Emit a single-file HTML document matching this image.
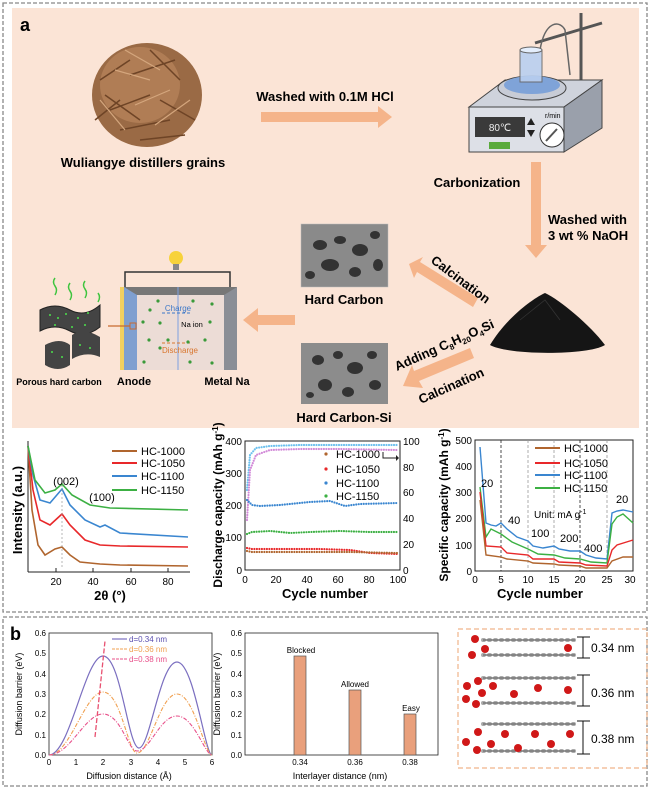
<!DOCTYPE html>
<html><head><meta charset="utf-8"><style>
html,body{margin:0;padding:0;background:#fff;}
svg{display:block;font-family:"Liberation Sans",Arial,sans-serif;}
.b{font-weight:bold;}
</style></head><body>
<svg width="650" height="789" viewBox="0 0 650 789" xmlns="http://www.w3.org/2000/svg">
<!-- outer dashed borders -->
<rect x="3" y="3" width="644" height="609" fill="none" stroke="#888" stroke-width="1.3" stroke-dasharray="4,2"/>
<rect x="3" y="617" width="644" height="169" fill="none" stroke="#888" stroke-width="1.3" stroke-dasharray="4,2"/>
<!-- peach box -->
<rect x="12" y="8" width="627" height="420" fill="#fbe4d6"/>
<text x="20" y="31" font-size="18" class="b">a</text>

<!-- grains -->
<g>
<ellipse cx="147" cy="95" rx="55" ry="52" fill="#9a6a45"/>
<ellipse cx="140" cy="85" rx="40" ry="38" fill="#b07d55"/>
<g stroke="#6e4426" stroke-width="1.5">
<line x1="100" y1="80" x2="130" y2="60"/><line x1="110" y1="110" x2="150" y2="95"/><line x1="120" y1="130" x2="170" y2="120"/>
<line x1="150" y1="50" x2="180" y2="80"/><line x1="160" y1="100" x2="195" y2="120"/><line x1="95" y1="120" x2="120" y2="100"/>
<line x1="130" y1="75" x2="175" y2="60"/><line x1="140" y1="140" x2="185" y2="135"/><line x1="105" y1="95" x2="140" y2="120"/>
</g>
<g stroke="#d4a67d" stroke-width="1.2">
<line x1="115" y1="70" x2="150" y2="80"/><line x1="135" y1="105" x2="170" y2="90"/><line x1="100" y1="100" x2="125" y2="130"/>
<line x1="155" y1="125" x2="190" y2="100"/><line x1="125" y1="50" x2="160" y2="70"/>
</g>
</g>
<text x="143" y="167" font-size="13" class="b" text-anchor="middle">Wuliangye distillers grains</text>

<!-- arrow HCl -->
<text x="325" y="101" font-size="13" class="b" text-anchor="middle">Washed with 0.1M HCl</text>
<polygon points="261,112 378,112 378,106 392,117 378,128 378,122 261,122" fill="#f5b48a"/>

<!-- stirrer -->
<g>
<line x1="535" y1="43" x2="602" y2="23" stroke="#555" stroke-width="3"/>
<line x1="581" y1="13" x2="581" y2="85" stroke="#555" stroke-width="3"/>
<path d="M540,50 C545,20 560,20 565,30 L570,75" fill="none" stroke="#666" stroke-width="1.5"/>
<polygon points="469,107 505,80 602,80 564,107" fill="#cfd3dc" stroke="#444"/>
<polygon points="564,107 602,80 602,128 564,152" fill="#9aa0ab" stroke="#444"/>
<rect x="469" y="107" width="95" height="45" fill="#dde0e7" stroke="#444"/>
<ellipse cx="532" cy="88" rx="34" ry="12" fill="#c8ccd6" stroke="#444"/>
<ellipse cx="532" cy="85" rx="28" ry="9" fill="#7fa3d8"/>
<rect x="520" y="50" width="22" height="32" fill="#b9cff0" stroke="#666" opacity="0.9"/>
<ellipse cx="531" cy="50" rx="11" ry="3" fill="#e4eefc" stroke="#666"/>
<rect x="475" y="117" width="50" height="20" fill="#3a3a3a"/>
<text x="500" y="131" font-size="10" fill="#eee" text-anchor="middle">80℃</text>
<polygon points="531,118 535,125 527,125" fill="#222"/><polygon points="531,137 535,130 527,130" fill="#222"/>
<circle cx="552" cy="135" r="12" fill="#fff" stroke="#333"/>
<line x1="546" y1="141" x2="557" y2="129" stroke="#555" stroke-width="2"/>
<text x="545" y="118" font-size="7">r/min</text>
<rect x="489" y="142" width="21" height="7" fill="#5aaa3c"/>
</g>
<text x="477" y="187" font-size="13" class="b" text-anchor="middle">Carbonization</text>

<!-- down arrow -->
<polygon points="531,162 541,162 541,245 547,245 536,258 525,245 531,245" fill="#f5b48a"/>
<text x="548" y="224" font-size="13" class="b">Washed with</text>
<text x="548" y="240" font-size="13" class="b">3 wt % NaOH</text>

<!-- powder pile -->
<path d="M490,345 C505,320 530,300 545,293 C560,300 590,325 605,345 C590,355 510,356 490,345 Z" fill="#151515"/>
<path d="M520,320 L545,300 L560,320" fill="none" stroke="#333" stroke-width="0.8"/>

<!-- calcination upper arrow -->
<polygon points="478,298 420,262 423,257 409,264 414,278 417,272 473,307" fill="#f5b48a"/>
<text x="0" y="0" font-size="13" class="b" transform="translate(430,262) rotate(37)">Calcination</text>

<!-- lower arrow -->
<polygon points="470,348 414,371 412,365 403,386 423,388 419,381 474,358" fill="#f5b48a"/>
<text x="0" y="0" font-size="13" class="b" transform="translate(397,371) rotate(-24)">Adding C<tspan font-size="8" dy="3">8</tspan><tspan dy="-3">H</tspan><tspan font-size="8" dy="3">20</tspan><tspan dy="-3">O</tspan><tspan font-size="8" dy="3">4</tspan><tspan dy="-3">Si</tspan></text>
<text x="0" y="0" font-size="13" class="b" transform="translate(421,404) rotate(-24)">Calcination</text>

<!-- SEM images -->
<g>
<rect x="301" y="224" width="87" height="63" fill="#8a8a8a"/>
<g fill="#333"><ellipse cx="320" cy="245" rx="7" ry="5"/><ellipse cx="340" cy="240" rx="6" ry="4"/><ellipse cx="360" cy="250" rx="8" ry="6"/><ellipse cx="330" cy="265" rx="9" ry="6"/><ellipse cx="355" cy="272" rx="6" ry="5"/><ellipse cx="375" cy="235" rx="5" ry="4"/><ellipse cx="310" cy="275" rx="5" ry="4"/><ellipse cx="378" cy="265" rx="5" ry="6"/></g>
<rect x="301" y="224" width="87" height="63" fill="none" stroke="#bbb" stroke-width="0.5"/>
</g>
<text x="344" y="304" font-size="13" class="b" text-anchor="middle">Hard Carbon</text>
<g>
<rect x="301" y="343" width="87" height="61" fill="#8c8c8c"/>
<g fill="#333"><ellipse cx="318" cy="360" rx="6" ry="5"/><ellipse cx="338" cy="355" rx="5" ry="4"/><ellipse cx="355" cy="368" rx="8" ry="6"/><ellipse cx="325" cy="385" rx="7" ry="6"/><ellipse cx="348" cy="392" rx="6" ry="5"/><ellipse cx="372" cy="355" rx="5" ry="4"/><ellipse cx="375" cy="385" rx="6" ry="5"/><ellipse cx="310" cy="395" rx="4" ry="3"/></g>
</g>
<text x="344" y="422" font-size="13" class="b" text-anchor="middle">Hard Carbon-Si</text>

<!-- left arrow -->
<polygon points="295,315 258,315 258,308 243,320 258,332 258,325 295,325" fill="#f5b48a"/>

<!-- battery -->
<g>
<polyline points="125,287 125,272 230,272 230,287" fill="none" stroke="#333" stroke-width="1.5"/>
<circle cx="176" cy="258" r="7" fill="#f7d23a"/>
<rect x="173" y="264" width="6" height="6" fill="#888"/>
<polygon points="120,287 237,287 232,295 125,295" fill="#777"/>
<rect x="125" y="295" width="107" height="75" fill="#ecdcd6"/>
<rect x="120" y="287" width="4" height="83" fill="#f2d060"/>
<polygon points="124,287 137,295 137,370 124,370" fill="#7f9fd0"/>
<polygon points="237,287 224,295 224,370 237,370" fill="#8a8e96"/>
<line x1="178" y1="287" x2="178" y2="370" stroke="#7ea0e0" stroke-width="1"/>
<line x1="162" y1="313" x2="192" y2="313" stroke="#3d78c8" stroke-dasharray="3,2"/>
<text x="178" y="311" font-size="8" fill="#3d78c8" text-anchor="middle">Charge</text>
<text x="192" y="327" font-size="7.5" text-anchor="middle">Na ion</text>
<line x1="162" y1="343" x2="192" y2="343" stroke="#d9762e" stroke-dasharray="3,2"/>
<text x="180" y="353" font-size="8" fill="#d9762e" text-anchor="middle">Discharge</text>
<g fill="#3a9a3a"><circle cx="158" cy="301" r="1.6"/><circle cx="193" cy="301" r="1.6"/><circle cx="212" cy="304" r="1.6"/><circle cx="150" cy="310" r="1.6"/><circle cx="143" cy="322" r="1.6"/><circle cx="160" cy="323" r="1.6"/><circle cx="210" cy="322" r="1.6"/><circle cx="149" cy="340" r="1.6"/><circle cx="168" cy="340" r="1.6"/><circle cx="205" cy="340" r="1.6"/><circle cx="188" cy="342" r="1.6"/><circle cx="160" cy="348" r="1.6"/><circle cx="144" cy="362" r="1.6"/><circle cx="190" cy="362" r="1.6"/><circle cx="212" cy="363" r="1.6"/></g>
<rect x="130" y="323" width="6" height="6" fill="none" stroke="#c86a30"/>
<line x1="108" y1="326" x2="130" y2="326" stroke="#c86a30" stroke-width="1.2"/>
</g>
<!-- porous hard carbon -->
<g>
<g stroke="#3fc43f" stroke-width="1.5" fill="none"><path d="M55,295 q3,-5 0,-9 q-3,-4 0,-8"/><path d="M70,300 q3,-5 0,-9 q-3,-4 0,-8"/><path d="M85,298 q3,-5 0,-9 q-3,-4 0,-8"/><path d="M98,302 q3,-5 0,-9"/></g>
<path d="M40,310 q15,-8 30,0 q15,8 30,-5 l0,22 q-15,12 -30,4 q-15,-8 -30,0 z" fill="#444" stroke="#222"/>
<path d="M45,345 q15,-8 25,0 l0,20 q-12,8 -25,0 z" fill="#444"/>
<path d="M72,335 q12,-8 28,2 l0,20 q-14,-6 -28,2 z" fill="#444"/>
<g fill="#4ce04c"><circle cx="50" cy="315" r="1"/><circle cx="58" cy="318" r="1"/><circle cx="66" cy="314" r="1"/><circle cx="78" cy="318" r="1"/><circle cx="88" cy="313" r="1"/><circle cx="55" cy="325" r="1"/><circle cx="72" cy="327" r="1"/><circle cx="85" cy="325" r="1"/><circle cx="52" cy="352" r="1"/><circle cx="62" cy="357" r="1"/><circle cx="80" cy="345" r="1"/><circle cx="90" cy="348" r="1"/></g>
</g>
<text x="59" y="385" font-size="9" class="b" text-anchor="middle">Porous hard carbon</text>
<text x="134" y="385" font-size="11" class="b" text-anchor="middle">Anode</text>
<text x="227" y="385" font-size="11" class="b" text-anchor="middle">Metal Na</text>

<!-- ===== Chart 1 XRD ===== -->
<g>
<line x1="28" y1="441" x2="28" y2="572" stroke="#222"/>
<line x1="28" y1="572" x2="190" y2="572" stroke="#222"/>
<g stroke="#222"><line x1="56" y1="572" x2="56" y2="568"/><line x1="93" y1="572" x2="93" y2="568"/><line x1="131" y1="572" x2="131" y2="568"/><line x1="168" y1="572" x2="168" y2="568"/></g>
<g font-size="10" text-anchor="middle"><text x="56" y="585">20</text><text x="93" y="585">40</text><text x="131" y="585">60</text><text x="168" y="585">80</text></g>
<text x="110" y="600" font-size="13" class="b" text-anchor="middle">2θ (°)</text>
<text transform="translate(22,510) rotate(-90)" font-size="13" class="b" text-anchor="middle">Intensity (a.u.)</text>
<g fill="none" stroke-width="1.6">
<polyline stroke="#b0652e" points="28,446 32,510 38,545 45,555 55,549 62,547 70,555 80,562 100,564 120,565 188,566"/>
<polyline stroke="#e8282a" points="28,446 33,490 40,520 50,525 62,514 70,525 85,540 100,545 120,546 188,547"/>
<polyline stroke="#3a86d0" points="28,446 33,475 40,500 50,503 62,489 70,505 85,520 100,527 105,525 120,533 188,537"/>
<polyline stroke="#3cb043" points="28,446 35,480 45,493 55,490 62,484 72,495 90,505 110,508 188,510"/>
</g>
<line x1="62" y1="485" x2="62" y2="568" stroke="#999" stroke-dasharray="2,2" stroke-width="0.7"/>
<text x="66" y="485" font-size="11" text-anchor="middle">(002)</text>
<text x="102" y="501" font-size="11" text-anchor="middle">(100)</text>
<g font-size="11"><line x1="112" y1="451" x2="137" y2="451" stroke="#b0652e" stroke-width="2"/><text x="141" y="455">HC-1000</text>
<line x1="112" y1="463" x2="137" y2="463" stroke="#e8282a" stroke-width="2"/><text x="141" y="467">HC-1050</text>
<line x1="112" y1="476" x2="137" y2="476" stroke="#3a86d0" stroke-width="2"/><text x="141" y="480">HC-1100</text>
<line x1="112" y1="490" x2="137" y2="490" stroke="#3cb043" stroke-width="2"/><text x="141" y="494">HC-1150</text></g>
</g>

<!-- ===== Chart 2 cycling ===== -->
<g>
<rect x="245" y="441" width="155" height="129" fill="none" stroke="#222"/>
<g font-size="10" text-anchor="end"><text x="242" y="574">0</text><text x="242" y="541">100</text><text x="242" y="509">200</text><text x="242" y="477">300</text><text x="242" y="445">400</text></g>
<g font-size="10"><text x="403" y="574">0</text><text x="403" y="548">20</text><text x="403" y="522">40</text><text x="403" y="496">60</text><text x="403" y="471">80</text><text x="403" y="445">100</text></g>
<g font-size="10" text-anchor="middle"><text x="245" y="583">0</text><text x="276" y="583">20</text><text x="307" y="583">40</text><text x="338" y="583">60</text><text x="369" y="583">80</text><text x="398" y="583">100</text></g>
<text x="325" y="598" font-size="13" class="b" text-anchor="middle">Cycle number</text>
<text transform="translate(222,505) rotate(-90)" font-size="12" class="b" text-anchor="middle">Discharge capacity (mAh g<tspan font-size="8" dy="-4">-1</tspan><tspan dy="4">)</tspan></text>
<g fill="none" stroke-linecap="round" stroke-width="2.2" stroke-dasharray="0 2.5">
<polyline stroke="#6cc0ee" points="247,490 250,455 256,448 270,446 300,445 340,445 398,445"/>
<polyline stroke="#d28ad8" points="247,520 250,470 256,455 270,450 300,449 340,449 398,450"/>
<polyline stroke="#3a86d0" points="247,500 252,505 260,506 280,505 310,502 330,501 345,506 360,504 398,503"/>
<polyline stroke="#3cb043" points="247,534 252,532 270,531 290,533 310,532 340,531 370,532 398,532"/>
<polyline stroke="#e8282a" points="247,548 252,549 280,549 320,549 350,550 370,553 398,554"/>
<polyline stroke="#b0652e" points="247,551 252,552 300,552 350,552 398,553"/>
</g>
<path d="M383,452 L383,458 L396,458" fill="none" stroke="#222"/><polygon points="396,455 399,458 396,461" fill="#222"/>
<g font-size="11">
<circle cx="326" cy="454" r="1.6" fill="#b0652e"/><text x="336" y="458">HC-1000</text>
<circle cx="326" cy="469" r="1.6" fill="#e8282a"/><text x="336" y="473">HC-1050</text>
<circle cx="326" cy="483" r="1.6" fill="#3a86d0"/><text x="336" y="487">HC-1100</text>
<circle cx="326" cy="496" r="1.6" fill="#3cb043"/><text x="336" y="500">HC-1150</text>
</g>
</g>

<!-- ===== Chart 3 rate ===== -->
<g>
<rect x="475" y="440" width="158" height="131" fill="none" stroke="#222"/>
<g font-size="10" text-anchor="end"><text x="472" y="575">0</text><text x="472" y="549">100</text><text x="472" y="522">200</text><text x="472" y="496">300</text><text x="472" y="470">400</text><text x="472" y="444">500</text></g>
<g font-size="10" text-anchor="middle"><text x="475" y="583">0</text><text x="501" y="583">5</text><text x="528" y="583">10</text><text x="554" y="583">15</text><text x="580" y="583">20</text><text x="607" y="583">25</text><text x="630" y="583">30</text></g>
<text x="540" y="598" font-size="13" class="b" text-anchor="middle">Cycle number</text>
<text transform="translate(448,505) rotate(-90)" font-size="12" class="b" text-anchor="middle">Specific capacity (mAh g<tspan font-size="8" dy="-4">-1</tspan><tspan dy="4">)</tspan></text>
<g stroke-width="0.8" stroke-dasharray="3,2"><line x1="501" y1="440" x2="501" y2="571" stroke="#222"/><line x1="528" y1="440" x2="528" y2="571" stroke="#999"/><line x1="554" y1="440" x2="554" y2="571" stroke="#999"/><line x1="580" y1="440" x2="580" y2="571" stroke="#222"/><line x1="607" y1="440" x2="607" y2="571" stroke="#999"/></g>
<g fill="none" stroke-width="1.4">
<polyline stroke="#3a86d0" points="480,447 486,523 491,525 496,526 501,523 507,529 517,537 528,541 533,546 543,548 554,546 559,549 570,551 580,551 586,555 596,558 607,559 612,513 617,511 623,510 633,512"/>
<polyline stroke="#3cb043" points="480,487 486,537 491,529 501,534 512,542 528,549 538,554 554,555 565,558 580,559 591,562 607,563 612,524 617,517 623,514 633,523"/>
<polyline stroke="#e8282a" points="480,492 486,546 501,547 507,553 528,555 533,559 554,559 559,562 580,563 586,565 607,566 612,550 617,545 633,540"/>
<polyline stroke="#b0652e" points="480,500 486,555 501,557 507,559 528,561 533,563 554,564 559,565 580,566 586,568 607,568 612,561 623,557 633,557"/>
</g>
<g font-size="11">
<text x="481" y="487">20</text><text x="508" y="524">40</text><text x="531" y="537">100</text><text x="560" y="542">200</text><text x="584" y="552">400</text><text x="616" y="503">20</text>
<text x="534" y="518" font-size="10">Unit: mA g<tspan font-size="7" dy="-4">-1</tspan></text>
</g>
<g font-size="11">
<line x1="535" y1="448" x2="560" y2="448" stroke="#b0652e" stroke-width="2"/><text x="564" y="452">HC-1000</text>
<line x1="535" y1="463" x2="560" y2="463" stroke="#e8282a" stroke-width="2"/><text x="564" y="467">HC-1050</text>
<line x1="535" y1="475" x2="560" y2="475" stroke="#3a86d0" stroke-width="2"/><text x="564" y="479">HC-1100</text>
<line x1="535" y1="488" x2="560" y2="488" stroke="#3cb043" stroke-width="2"/><text x="564" y="492">HC-1150</text>
</g>
</g>

<!-- ===== Panel b ===== -->
<text x="10" y="640" font-size="18" class="b">b</text>
<!-- b1 -->
<g>
<rect x="49" y="633" width="163" height="122" fill="none" stroke="#222" stroke-width="0.8"/>
<g font-size="8" text-anchor="end"><text x="46" y="758">0.0</text><text x="46" y="738">0.1</text><text x="46" y="717">0.2</text><text x="46" y="697">0.3</text><text x="46" y="677">0.4</text><text x="46" y="656">0.5</text><text x="46" y="636">0.6</text></g>
<g font-size="8" text-anchor="middle"><text x="49" y="765">0</text><text x="76" y="765">1</text><text x="103" y="765">2</text><text x="131" y="765">3</text><text x="158" y="765">4</text><text x="185" y="765">5</text><text x="212" y="765">6</text></g>
<text x="129" y="779" font-size="9" text-anchor="middle">Diffusion distance (Å)</text>
<text transform="translate(22,694) rotate(-90)" font-size="9" text-anchor="middle">Diffusion barrier (eV)</text>
<path d="M49,755 C70,755 85,656 103,656 C121,656 128,748 139,748 C150,748 160,662 177,662 C194,662 205,755 212,755" fill="none" stroke="#7b6fc0" stroke-width="1.2"/>
<path d="M49,755 C70,755 85,692 103,692 C121,692 128,753 137,753 C150,753 160,694 177,694 C194,694 205,755 212,755" fill="none" stroke="#f0a050" stroke-width="1.1" stroke-dasharray="4,1.5,1,1.5"/>
<path d="M49,755 C70,755 85,714 103,714 C121,714 128,751 137,751 C150,751 160,716 177,716 C194,716 205,755 212,755" fill="none" stroke="#e8508a" stroke-width="1.1" stroke-dasharray="4,1.5,1,1.5"/>
<line x1="95" y1="737" x2="105" y2="641" stroke="#e85070" stroke-width="1.3" stroke-dasharray="5,2"/>
<g font-size="8"><line x1="112" y1="639" x2="127" y2="639" stroke="#7b6fc0" stroke-width="1.2"/><text x="129" y="642" fill="#5b4fb0">d=0.34 nm</text>
<line x1="112" y1="649" x2="127" y2="649" stroke="#f0a050" stroke-dasharray="3,1"/><text x="129" y="652" fill="#f0a050">d=0.36 nm</text>
<line x1="112" y1="659" x2="127" y2="659" stroke="#e8508a" stroke-dasharray="3,1"/><text x="129" y="662" fill="#e8508a">d=0.38 nm</text></g>
</g>
<!-- b2 -->
<g>
<rect x="245" y="633" width="193" height="122" fill="none" stroke="#222" stroke-width="0.8"/>
<g font-size="8" text-anchor="end"><text x="242" y="758">0.0</text><text x="242" y="738">0.1</text><text x="242" y="717">0.2</text><text x="242" y="697">0.3</text><text x="242" y="677">0.4</text><text x="242" y="656">0.5</text><text x="242" y="636">0.6</text></g>
<g font-size="8" text-anchor="middle"><text x="300" y="765">0.34</text><text x="355" y="765">0.36</text><text x="410" y="765">0.38</text></g>
<text x="340" y="779" font-size="9" text-anchor="middle">Interlayer distance (nm)</text>
<text transform="translate(220,694) rotate(-90)" font-size="9" text-anchor="middle">Diffusion barrier (eV)</text>
<rect x="294" y="656" width="12" height="99" fill="#e9a07c" stroke="#555" stroke-width="0.7"/>
<rect x="349" y="690" width="12" height="65" fill="#e9a07c" stroke="#555" stroke-width="0.7"/>
<rect x="404" y="714" width="12" height="41" fill="#e9a07c" stroke="#555" stroke-width="0.7"/>
<g font-size="8" text-anchor="middle"><text x="301" y="653">Blocked</text><text x="355" y="687">Allowed</text><text x="411" y="711">Easy</text></g>
</g>
<!-- b3 structure -->
<g>
<rect x="458" y="629" width="189" height="139" fill="none" stroke="#f0b48a" stroke-width="1.2" stroke-dasharray="5,3"/>
<g stroke="#aaa" stroke-width="4" stroke-linecap="round" stroke-dasharray="1,5">
<line x1="483" y1="640" x2="575" y2="640"/><line x1="483" y1="655" x2="575" y2="655"/>
<line x1="483" y1="678" x2="575" y2="678"/><line x1="483" y1="703" x2="575" y2="703"/>
<line x1="483" y1="724" x2="575" y2="724"/><line x1="483" y1="751" x2="575" y2="751"/>
</g>
<g stroke="#777" stroke-width="1.5"><line x1="483" y1="640" x2="575" y2="640"/><line x1="483" y1="655" x2="575" y2="655"/><line x1="483" y1="678" x2="575" y2="678"/><line x1="483" y1="703" x2="575" y2="703"/><line x1="483" y1="724" x2="575" y2="724"/><line x1="483" y1="751" x2="575" y2="751"/></g>
<g fill="#d01818">
<circle cx="475" cy="639" r="4"/><circle cx="485" cy="649" r="4"/><circle cx="472" cy="655" r="4"/><circle cx="568" cy="648" r="4"/>
<circle cx="467" cy="686" r="4"/><circle cx="478" cy="681" r="4"/><circle cx="493" cy="686" r="4"/><circle cx="482" cy="693" r="4"/><circle cx="466" cy="699" r="4"/><circle cx="476" cy="704" r="4"/><circle cx="514" cy="694" r="4"/><circle cx="538" cy="688" r="4"/><circle cx="568" cy="690" r="4"/>
<circle cx="466" cy="742" r="4"/><circle cx="478" cy="732" r="4"/><circle cx="491" cy="744" r="4"/><circle cx="505" cy="734" r="4"/><circle cx="477" cy="750" r="4"/><circle cx="518" cy="748" r="4"/><circle cx="535" cy="734" r="4"/><circle cx="551" cy="744" r="4"/><circle cx="570" cy="734" r="4"/>
</g>
<g stroke="#111" stroke-width="1">
<line x1="583" y1="637" x2="583" y2="658"/><line x1="577" y1="637" x2="590" y2="637"/><line x1="577" y1="658" x2="590" y2="658"/>
<line x1="583" y1="675" x2="583" y2="706"/><line x1="577" y1="675" x2="590" y2="675"/><line x1="577" y1="706" x2="590" y2="706"/>
<line x1="583" y1="721" x2="583" y2="754"/><line x1="577" y1="721" x2="590" y2="721"/><line x1="577" y1="754" x2="590" y2="754"/>
</g>
<g font-size="12"><text x="591" y="652">0.34 nm</text><text x="591" y="697">0.36 nm</text><text x="591" y="743">0.38 nm</text></g>
</g>
</svg>
</body></html>
